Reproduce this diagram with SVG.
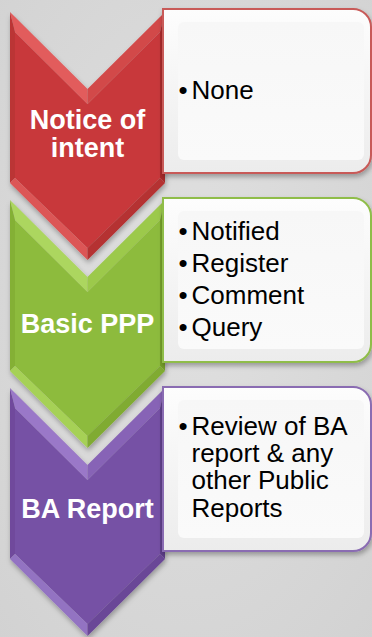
<svg xmlns="http://www.w3.org/2000/svg" width="372" height="637" viewBox="0 0 372 637">
<defs>
<radialGradient id="bg" cx="50%" cy="45%" r="75%">
<stop offset="0" stop-color="#e0e0e0"/>
<stop offset="1" stop-color="#d2d2d2"/>
</radialGradient>
<linearGradient id="boxfill" x1="0" y1="0" x2="0" y2="1">
<stop offset="0" stop-color="#fdfdfd"/>
<stop offset="1" stop-color="#ececec"/>
</linearGradient>
<linearGradient id="boxinner" x1="0" y1="0" x2="0" y2="1">
<stop offset="0" stop-color="#f7f7f7"/>
<stop offset="1" stop-color="#fafafa"/>
</linearGradient>
<filter id="shadow" x="-10%" y="-10%" width="125%" height="125%">
<feDropShadow dx="1" dy="3" stdDeviation="2.5" flood-color="#000" flood-opacity="0.3"/>
</filter>
<g id="chev">
<polygon style="fill:var(--c)" points="15,20 87.5,92 160,20 160,166 87.5,236 15,166"/>
<polygon style="fill:var(--tl)" points="10,0 87.5,77 87.5,92 15,20"/>
<polygon style="fill:var(--tr)" points="87.5,77 165,0 160,20 87.5,92"/>
<polygon style="fill:var(--l)" points="10,0 15,20 15,166 10,171"/>
<polygon style="fill:var(--r)" points="165,0 165,171 160,166 160,20"/>
<polygon style="fill:var(--bl)" points="10,171 15,166 87.5,236 87.5,248"/>
<polygon style="fill:var(--br)" points="165,171 87.5,248 87.5,236 160,166"/>
</g>
<path id="box" d="M163,0 H353 A18,18 0 0 1 371,18 V146 A18,18 0 0 1 353,164 H163 Z"/>
</defs>
<style>
.red{--c:#c8393b;--tl:#e25b5b;--tr:#d24a4a;--l:#bb3434;--r:#a92a2b;--bl:#dc5656;--br:#b53031;--bs:#c85a58}
.green{--c:#8dbb3c;--tl:#acd65e;--tr:#9cc94b;--l:#84b036;--r:#76a02c;--bl:#a6d156;--br:#80ab33;--bs:#8fbd48}
.purple{--c:#7651a5;--tl:#9a78c8;--tr:#8763b6;--l:#6f4a9c;--r:#613f8c;--bl:#9373c2;--br:#6a4797;--bs:#8a6cb2}
.boxshape{fill:url(#boxfill);stroke:var(--bs);stroke-width:2;filter:url(#shadow)}
.inner{fill:url(#boxinner)}
.lbl{font-family:"Liberation Sans",Arial,sans-serif;font-weight:bold;font-size:27px;fill:#ffffff;text-anchor:middle}
.txt{font-family:"Liberation Sans",Arial,sans-serif;font-size:26px;fill:#000000}
.sh{filter:url(#shadow)}
</style>
<rect width="372" height="637" fill="url(#bg)"/>

<g id="node-notice" class="red">
<use href="#chev" transform="translate(0,12)" class="sh"/>
<text class="lbl" x="87.5" y="129">Notice of</text>
<text class="lbl" x="87.5" y="157">intent</text>
<g transform="translate(0,9)">
<use href="#box" class="boxshape"/>
<rect class="inner" x="178" y="13" width="186" height="138" rx="6"/>
</g>
<text class="txt"><tspan x="178.5" y="99">•</tspan><tspan x="191.5" y="99">None</tspan></text>
</g>

<g id="node-ppp" class="green">
<use href="#chev" transform="translate(0,200)" class="sh"/>
<text class="lbl" x="87.5" y="333">Basic PPP</text>
<g transform="translate(0,198)">
<use href="#box" class="boxshape"/>
<rect class="inner" x="178" y="13" width="186" height="138" rx="6"/>
</g>
<text class="txt"><tspan x="178.5" y="240">•</tspan><tspan x="191.5" y="240">Notified</tspan></text>
<text class="txt"><tspan x="178.5" y="272">•</tspan><tspan x="191.5" y="272">Register</tspan></text>
<text class="txt"><tspan x="178.5" y="304">•</tspan><tspan x="191.5" y="304">Comment</tspan></text>
<text class="txt"><tspan x="178.5" y="336">•</tspan><tspan x="191.5" y="336">Query</tspan></text>
</g>

<g id="node-ba" class="purple">
<use href="#chev" transform="translate(0,388)" class="sh"/>
<text class="lbl" x="87.5" y="518">BA Report</text>
<g transform="translate(0,387)">
<use href="#box" class="boxshape"/>
<rect class="inner" x="178" y="13" width="186" height="138" rx="6"/>
</g>
<text class="txt"><tspan x="178.5" y="435">•</tspan><tspan x="191.5" y="435">Review of BA</tspan><tspan x="191.5" y="462">report &amp; any</tspan><tspan x="191.5" y="489">other Public</tspan><tspan x="191.5" y="517">Reports</tspan></text>
</g>
</svg>
